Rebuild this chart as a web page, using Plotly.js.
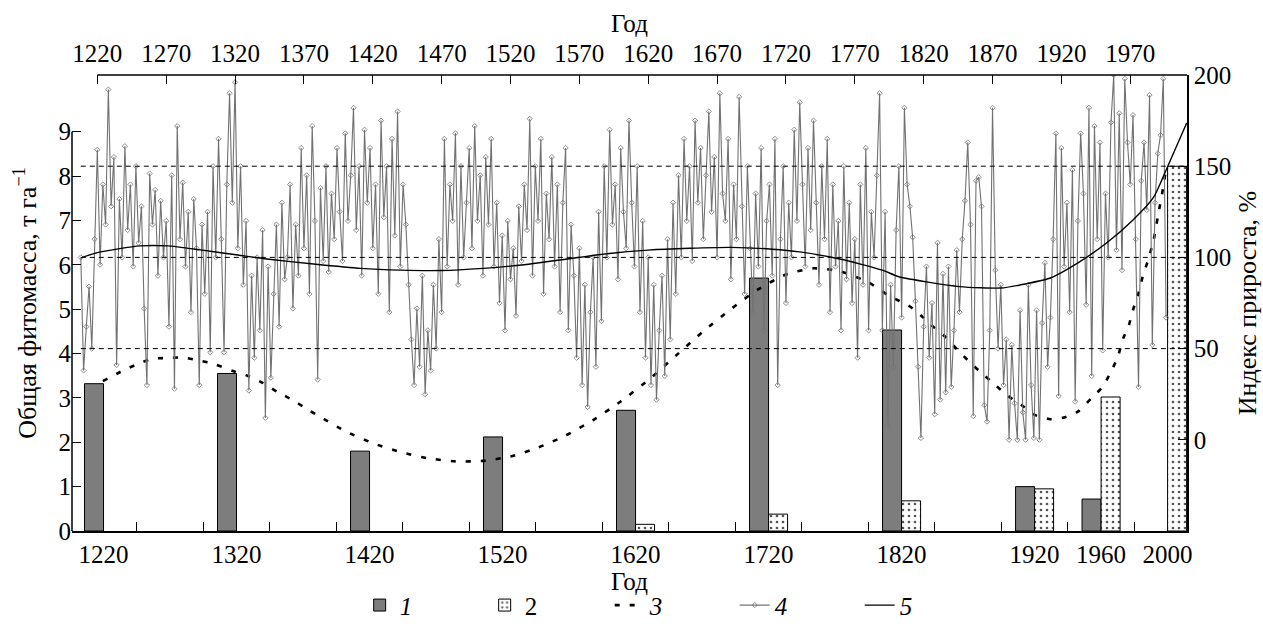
<!DOCTYPE html>
<html><head><meta charset="utf-8">
<script src="https://cdn.plot.ly/plotly-3.0.1.min.js"></script>
<style>html,body{margin:0;padding:0;background:#fff;font-family:'Liberation Serif',serif}</style>
</head><body>
<div id="chart" style="width:1263px;height:626px;font-family:'Liberation Serif',serif"></div>
<script>
// ---- data ----
const barYears   = [1220, 1320, 1420, 1520, 1620, 1720, 1820, 1920, 1960, 2000];
const phytoTotal = [3.32, 3.55, 1.80, 2.12, 2.72, 5.70, 4.53, 1.00, 0.72, null]; // series 1
const phytoNew   = [null, null, null, null, 0.15, 0.38, 0.68, 0.95, 3.02, 8.22]; // series 2

const topTicks = [1220,1270,1320,1370,1420,1470,1520,1570,1620,1670,1720,1770,1820,1870,1920,1970];

// series 3 (left axis, t/ha)
const modelYears = [1224,1237,1249,1260,1271,1282,1293,1305,1318,1329,1340,1351,1362,1372,1382,1400,1420,1440,1460,1480,1500,1520,1540,1560,1580,1600,1620,1640,1660,1680,1700,1720,1740,1760,1780,1795,1810,1819,1827,1836,1844,1854,1862,1872,1881,1891,1901,1912,1921,1932,1942,1950,1956,1961,1965,1969,1972,1976,1979,1983,1987,1990,1994,1996];
const modelVals  = [3.38,3.59,3.76,3.88,3.90,3.91,3.85,3.76,3.61,3.50,3.34,3.13,2.95,2.75,2.57,2.25,1.98,1.78,1.64,1.57,1.58,1.68,1.88,2.15,2.50,2.92,3.40,3.95,4.50,5.00,5.45,5.78,5.92,5.85,5.60,5.30,5.06,4.83,4.60,4.37,4.10,3.79,3.56,3.29,3.05,2.84,2.61,2.52,2.55,2.69,3.00,3.25,3.59,3.93,4.35,4.64,4.98,5.36,5.73,6.11,6.56,7.08,7.76,8.17];

// series 4 (right axis, growth index %), every 2 years from 1208
const indexStart = 1208;
const indexVals = [
 100, 38, 62, 84, 50,110,159, 96,140,118,
 192,128,155, 41,132,100,161,115,140, 95,
 150,108,128, 72, 30,146,118,137, 90,131,
 100,120, 62,145, 28,172,110,141, 95,125,
  70,132,105, 30,118, 80,125, 48,150,100,
 165,110, 48,140,190,130,196,105,150, 85,
 120, 27, 90, 45,100, 60,115, 12, 95, 34,
  80,118, 62,130, 88,100,140, 72,118, 90,
 160,105,145, 80,172,120, 33,138, 98,150,
  92,135,110,160,125, 98,168,120,145,182,
 115,150, 90,170,130,160,105,140, 80,175,
 122,150, 70,165,112,180, 95,140,118, 85,
  55, 30, 72, 40, 90, 25, 60, 38, 85, 50,
 110, 70,165, 95,140,120,168, 85,150,100,
 130,160,105,172,120,145, 90,155,118,165,
  95,130, 75,112, 60,120, 88,105, 68,128,
  98,140,115,176, 90,150,120,165, 80,135,
 110,155, 95,140, 70,130,160, 60,118, 90,
  45,105, 30, 85, 18, 70,100, 40,125, 65,
 150,100,170,118,140, 88,160,125,105,175,
 130, 95,150, 70,120, 45,100, 30, 85, 22,
  60, 90, 35,110, 55,130, 80,145,100,165,
 120,150, 98,175,130,160,110,145,180,125,
 155,100,190,135,120,165, 88,140,110,188,
 128, 80,150,105, 70,135, 95,160, 60,120,
 140, 90,165, 30,110,150, 75,130,100,170,
 120,185,140, 95,160,115,175,130, 85,150,
 110,165, 70,140, 95,120, 60,150, 88,130,
  75,110, 45,140, 85,160, 60,125,100,145,
 190, 60,125,  8, 85, 40,115,150, 67,182,
 140,128,111, 76, 40,  1, 62, 95, 45, 75,
  14,108, 22, 91, 26, 95, 29, 60,104, 70,
 110,131,163,118, 13,142,144,128, 19, 10,
  60,182, 93, 50, 85, 30, 55,  0, 52, 20,
   0, 71, 15,  0, 85, 30,  1, 71,  0, 64,
  97, 40, 67,110,168, 24,160, 95,130, 70,
 148, 21,120,168,135, 74,182, 35,172,110,
 163, 49,135,100,174,200,104,179, 93,198,
 163,140,178,110, 29,142,163,126,189, 52,
 130,157,167,198, 67
];
const indexYears = indexVals.map((_, i) => indexStart + 2 * i);

// series 5 (right axis, smoothed index %)
const trendYears = [1208,1220,1251,1271,1295,1322,1343,1377,1411,1440,1470,1500,1530,1560,1590,1620,1650,1680,1710,1730,1760,1790,1802,1846,1876,1890,1912,1932,1953,1972,1987,1997,2011];
const trendVals  = [99.7,102.6,106.3,106.3,104.1,101.3,99.1,96.4,94.0,93.0,92.8,94.0,96.0,99.0,102.0,104.0,105.0,105.5,104.5,103.0,99.0,93.0,89.4,84.0,83.2,84.9,88.7,97.0,108.0,120.5,133.0,149.6,173.7];

const rightTicks = [0, 50, 100, 150, 200];
const refLevels  = [50, 100, 150];

// ---- drawing ----
const FONT = '"Liberation Serif", serif';
const slot = y => (y <= 1920 ? (y - 1220) / 100 : 7 + (y - 1920) / 80);
const barPos = barYears.map(slot);
const BW = 0.143;
const minorTicks = [];
for (let p = 0.25; p < 8; p += 0.5) minorTicks.push(p);

function draw() {
  const traces = [
    { type: 'bar', x: barPos, y: phytoTotal, width: BW, offset: -BW, name: '<i>1</i>',
      xaxis: 'x', yaxis: 'y',
      marker: { color: '#8e8e8e', line: { color: '#000', width: 1 },
        pattern: { shape: '.', bgcolor: '#a0a0a0', fgcolor: '#505050', size: 2, solidity: 0.5 } } },
    { type: 'bar', x: barPos, y: phytoNew, width: BW, offset: 0, name: '2',
      xaxis: 'x', yaxis: 'y',
      marker: { color: '#fff', line: { color: '#000', width: 1 },
        pattern: { shape: '.', bgcolor: '#fff', fgcolor: '#555', size: 6, solidity: 0.16 } } },
    { type: 'scatter', mode: 'lines', x: modelYears, y: modelVals, name: '<i>3</i>',
      xaxis: 'x2', yaxis: 'y',
      line: { color: '#000', width: 2.6, dash: '5px,10px', shape: 'spline', smoothing: 0.6 } },
    { type: 'scatter', mode: 'lines+markers', x: indexYears, y: indexVals, name: '<i>4</i>',
      xaxis: 'x2', yaxis: 'y2',
      line: { color: '#727272', width: 1.1 },
      marker: { symbol: 'diamond-open', size: 4, color: '#727272', line: { width: 0.8 } } },
    { type: 'scatter', mode: 'lines', x: trendYears, y: trendVals, name: '<i>5</i>',
      xaxis: 'x2', yaxis: 'y2',
      line: { color: '#000', width: 1.4, shape: 'spline', smoothing: 0.6 } }
  ];

  const TOPMAX = 2011.2, TOPMIN = 1201.6;
  const shapes = [
    { type: 'line', xref: 'x2', yref: 'paper', x0: topTicks[0], x1: TOPMAX, y0: 1, y1: 1,
      line: { color: '#000', width: 1.5 } },
    { type: 'line', xref: 'paper', yref: 'y', x0: 0, x1: 0, y0: 0, y1: 9,
      line: { color: '#000', width: 1.5 } }
  ];
  refLevels.forEach(v => shapes.push({
    type: 'line', xref: 'x2', yref: 'y2', x0: indexStart, x1: TOPMAX, y0: v, y1: v,
    line: { color: '#000', width: 1, dash: '5px,4px' }, layer: 'above'
  }));

  const tf = () => ({ family: FONT, size: 25, color: '#000' });
  const layout = {
    width: 1263, height: 626,
    margin: { l: 72, r: 76, t: 75, b: 95, pad: 0, autoexpand: false },
    paper_bgcolor: '#fff', plot_bgcolor: '#fff',
    font: { family: FONT, size: 25, color: '#000' },
    barmode: 'overlay',
    showlegend: true,
    legend: { orientation: 'h', x: 0.258, xanchor: 'left', y: -0.163, yanchor: 'middle',
      entrywidth: 80, entrywidthmode: 'pixels',
      font: tf(), bgcolor: 'rgba(0,0,0,0)', traceorder: 'normal' },
    xaxis: {
      range: [-0.237, 8.146], tickmode: 'array', tickvals: barPos, ticktext: barYears.map(String),
      ticks: '', showline: true, linecolor: '#000', linewidth: 1.5, showgrid: false, zeroline: false,
      tickfont: tf(),
      minor: { tickmode: 'array', tickvals: minorTicks, ticks: 'inside', ticklen: 9, tickwidth: 1.2, tickcolor: '#000', showgrid: false },
      title: { text: 'Год', font: tf(), standoff: 0 }
    },
    xaxis2: {
      overlaying: 'x', side: 'top', anchor: 'y', range: [TOPMIN, TOPMAX],
      tickmode: 'array', tickvals: topTicks, ticks: 'inside', ticklen: 9, tickwidth: 1.2, tickcolor: '#000',
      ticklabelstandoff: 7,
      showline: false, showgrid: false, zeroline: false, tickfont: tf(),
      title: { text: 'Год', font: tf(), standoff: 0 }
    },
    yaxis: {
      range: [0, 10.277], tickmode: 'array', tickvals: [0,1,2,3,4,5,6,7,8,9],
      ticks: 'inside', ticklen: 9, tickwidth: 1.2, tickcolor: '#000',
      showline: false, showgrid: false, zeroline: false, tickfont: tf(),
      title: { text: 'Общая фитомасса, т га<sup>−1</sup>', font: { family: FONT, size: 26, color: '#000' }, standoff: 14 }
    },
    yaxis2: {
      overlaying: 'y', side: 'right', anchor: 'x', range: [-50, 200],
      tickmode: 'array', tickvals: rightTicks, ticks: 'inside', ticklen: 9, tickwidth: 1.2, tickcolor: '#000',
      showline: true, linecolor: '#000', linewidth: 1.5, showgrid: false, zeroline: false, tickfont: tf(),
      title: { text: 'Индекс прироста, %', font: { family: FONT, size: 26, color: '#000' }, standoff: 8 }
    },
    shapes: shapes
  };

  Plotly.newPlot('chart', traces, layout, { displayModeBar: false });
}

if (document.fonts && document.fonts.load) {
  Promise.all([
    document.fonts.load('25px "Liberation Serif"'),
    document.fonts.load('italic 25px "Liberation Serif"')
  ]).then(draw, draw);
} else {
  draw();
}
</script>
</body></html>
